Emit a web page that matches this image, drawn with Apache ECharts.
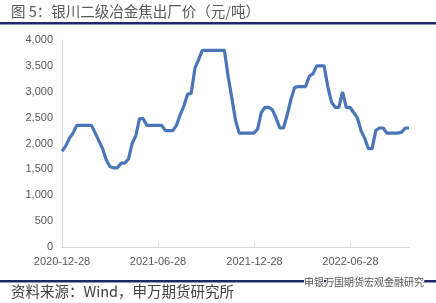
<!DOCTYPE html>
<html><head><meta charset="utf-8">
<script src="https://cdn.jsdelivr.net/npm/echarts@6/dist/echarts.min.js"></script>
<style>html,body{margin:0;padding:0;background:#fff}#c{width:436px;height:303px}</style>
</head><body><div id="c"></div>
<script>
// weekly prices (yuan/ton), first week 2020-12-28
var startDate = '2020-12-28';
var prices = [
  1850,1950,2100,2200,2350,2350,2350,2350,2350,2200,
  2050,1900,1680,1550,1530,1530,1620,1620,1700,2000,
  2150,2480,2480,2350,2350,2350,2350,2350,2250,2250,
  2250,2350,2550,2720,2950,2970,3450,3620,3800,3800,
  3800,3800,3800,3800,3800,3300,2880,2450,2200,2200,
  2200,2200,2200,2280,2600,2700,2700,2650,2490,2300,
  2300,2550,2850,3080,3100,3100,3100,3300,3350,3500,
  3500,3500,3100,2800,2700,2700,3000,2700,2700,2600,
  2500,2250,2100,1900,1900,2250,2300,2300,2200,2200,
  2200,2200,2220,2300,2300
];
var xTickLabels = ['2020-12-28','2021-06-28','2021-12-28','2022-06-28'];
var yTicks = [0,500,1000,1500,2000,2500,3000,3500,4000];

function dayNo(s){var p=s.split('-');return Math.round(Date.UTC(+p[0],+p[1]-1,+p[2])/86400000);}
var d0 = dayNo(startDate);
var seriesData = prices.map(function(v,i){ return [7*i, v]; });
var tickVals = xTickLabels.map(function(s){return dayNo(s)-d0;});

var chart = echarts.init(document.getElementById('c'));
chart.setOption({
  animation:false,
  grid:{left:62,right:27,top:40,bottom:56},
  xAxis:{
    type:'value',
    min:0,
    max:seriesData[seriesData.length-1][0],
    axisLine:{lineStyle:{color:'#d9d9d9',width:1}},
    axisTick:{show:true,inside:true,length:4,customValues:tickVals,lineStyle:{color:'#d9d9d9'}},
    axisLabel:{customValues:tickVals,color:'#595959',fontSize:11,fontFamily:'Liberation Sans',margin:9,
      formatter:function(v){var k=tickVals.indexOf(Math.round(v));return k>=0?xTickLabels[k]:'';}},
    splitLine:{show:false}
  },
  yAxis:{
    type:'value',min:yTicks[0],max:yTicks[yTicks.length-1],interval:500,
    axisLine:{show:true,lineStyle:{color:'#d9d9d9'}},
    axisTick:{show:false},
    splitLine:{show:false},
    axisLabel:{color:'#595959',fontSize:11,fontFamily:'Liberation Sans',margin:9,
      formatter:function(v){return v.toLocaleString('en-US');}}
  },
  series:[{
    type:'line',data:seriesData,showSymbol:false,
    lineStyle:{color:'#4a76b8',width:3.2},
    itemStyle:{color:'#4a76b8'}
  }],
  graphic:[
    {type:'text',left:11,top:4,style:{text:'图 5：银川二级冶金焦出厂价（元/吨）',fill:'#595959',font:'14.5px "Noto Sans CJK SC"'}},
    {type:'rect',shape:{x:0,y:22,width:436,height:2.5},style:{fill:'#1c2a6b'}},
    {type:'rect',shape:{x:0,y:280,width:436,height:2.5},style:{fill:'#1c2a6b'}},
    {type:'text',left:11,top:284,style:{text:'资料来源：Wind，申万期货研究所',fill:'#404040',font:'14.5px "Noto Sans CJK SC"'}},
    {type:'text',left:303,top:276,style:{text:'申银万国期货宏观金融研究',fill:'#555',font:'10px "Noto Sans CJK SC"',stroke:'#fff',lineWidth:2}}
  ]
});
</script></body></html>
